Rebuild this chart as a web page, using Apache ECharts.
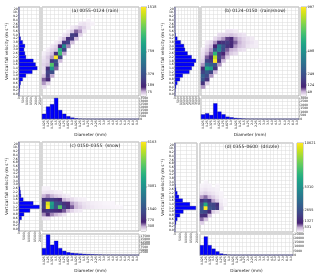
<!DOCTYPE html>
<html><head><meta charset="utf-8">
<script src="https://cdn.jsdelivr.net/npm/echarts@6/dist/echarts.min.js"></script>
<style>html,body{margin:0;padding:0;background:#fff}#c{width:320px;height:275px}</style>
</head><body><div id="c"></div>
<script>
// ---- categories ----
const diameterLabels = ["0.125","0.25","0.375","0.5","0.625","0.75","0.875","1.0","1.125","1.25","1.5","1.75","2.0","2.25","2.5","3.0","3.5","4.0","4.5","5.0","6.0","7.0","8.0","9.0"];
const velocityLabels = ["0.0","0.2","0.4","0.6","0.8","1.0","1.2","1.4","1.6","1.8","2.2","2.6","3.0","3.4","3.8","4.2","5.0","5.6","6.8","7.6","8.4","9.2","10.","20"];

// ---- panel titles ----
const titles = ["(a) 0055\u20130124 (rain)", "(b) 0124\u20130150  (rain/snow)", "(c) 0150\u20130355  (snow)", "(d) 0355\u20130600  (drizzle)"];

// ---- heatmap counts [diameterIndex, velocityIndex, count] ----
const heatA = [
 [0,2,30],[0,3,90],[0,4,120],[0,5,60],[0,6,25],[0,7,30],[0,8,40],[0,9,30],[0,10,20],[0,11,10],
 [1,3,40],[1,4,180],[1,5,260],[1,6,300],[1,7,200],[1,8,60],[1,9,45],[1,10,50],[1,11,30],[1,12,15],
 [2,5,80],[2,6,350],[2,7,800],[2,8,1100],[2,9,260],[2,10,90],[2,11,60],[2,12,40],[2,13,20],
 [3,7,120],[3,8,300],[3,9,350],[3,10,1518],[3,11,200],[3,12,60],[3,13,40],[3,14,15],
 [4,9,60],[4,10,300],[4,11,1050],[4,12,950],[4,13,150],[4,14,40],[4,15,15],
 [5,11,80],[5,12,300],[5,13,700],[5,14,250],[5,15,60],[5,16,20],
 [6,13,100],[6,14,300],[6,15,200],[6,16,40],[6,17,15],
 [7,14,60],[7,15,250],[7,16,280],[7,17,50],[7,18,15],
 [8,15,60],[8,16,240],[8,17,120],[8,18,30],
 [9,16,40],[9,17,90],[9,18,60],[9,19,20],
 [10,17,20],[10,18,40],[10,19,25],
 [11,18,15],[11,19,15],[11,20,8],
 [12,19,8]
];
const heatB = [
 [0,2,60],[0,3,150],[0,4,250],[0,5,300],[0,6,200],[0,7,120],[0,8,60],[0,9,30],[0,10,20],[0,11,15],[0,12,10],
 [1,3,30],[1,4,150],[1,5,220],[1,6,280],[1,7,600],[1,8,350],[1,9,200],[1,10,80],[1,11,50],[1,12,30],[1,13,20],[1,14,10],
 [2,5,60],[2,6,200],[2,7,550],[2,8,300],[2,9,180],[2,10,120],[2,11,80],[2,12,60],[2,13,40],[2,14,20],
 [3,6,40],[3,7,150],[3,8,250],[3,9,997],[3,10,900],[3,11,650],[3,12,260],[3,13,100],[3,14,60],[3,15,20],
 [4,8,60],[4,9,150],[4,10,200],[4,11,180],[4,12,450],[4,13,400],[4,14,120],[4,15,40],[4,16,20],
 [5,9,40],[5,10,80],[5,11,100],[5,12,220],[5,13,250],[5,14,150],[5,15,60],[5,16,25],
 [6,10,30],[6,11,60],[6,12,80],[6,13,150],[6,14,180],[6,15,90],[6,16,30],[6,17,15],
 [7,11,30],[7,12,50],[7,13,120],[7,14,120],[7,15,110],[7,16,40],[7,17,15],
 [8,11,20],[8,12,40],[8,13,60],[8,14,80],[8,15,60],[8,16,30],[8,17,10],
 [9,12,20],[9,13,40],[9,14,50],[9,15,40],[9,16,20],
 [10,12,15],[10,13,30],[10,14,30],[10,15,25],[10,16,15],
 [11,13,15],[11,14,20],[11,15,15],
 [12,13,10],[12,14,15],[12,15,10],
 [13,13,8],[13,14,8],
 [14,9,6]
];
const heatC = [
 [0,3,100],[0,4,400],[0,5,800],[0,6,1200],[0,7,1100],[0,8,900],[0,9,300],[0,10,80],[0,11,30],
 [1,3,80],[1,4,600],[1,5,1000],[1,6,6163],[1,7,5800],[1,8,1000],[1,9,400],[1,10,100],[1,11,30],
 [2,4,400],[2,5,900],[2,6,3200],[2,7,3500],[2,8,1100],[2,9,300],[2,10,80],
 [3,4,300],[3,5,800],[3,6,1500],[3,7,1400],[3,8,900],[3,9,200],[3,10,50],
 [4,4,200],[4,5,700],[4,6,4500],[4,7,1300],[4,8,700],[4,9,150],[4,10,40],
 [5,4,100],[5,5,500],[5,6,1200],[5,7,900],[5,8,300],[5,9,80],
 [6,5,300],[6,6,800],[6,7,600],[6,8,200],[6,9,50],
 [7,5,150],[7,6,500],[7,7,350],[7,8,120],
 [8,5,80],[8,6,280],[8,7,250],[8,8,60],
 [9,5,60],[9,6,200],[9,7,150],[9,8,40],
 [10,6,120],[10,7,100],[10,8,30],
 [11,6,90],[11,7,70],
 [12,6,70],[12,7,50],
 [13,6,50],[13,7,40],
 [14,6,40],[14,7,30],
 [15,6,30],[15,7,20],
 [16,6,25],[16,7,15],
 [17,6,20],[17,7,12],
 [18,6,15],
 [19,6,10]
];
const heatD = [
 [0,2,300],[0,3,800],[0,4,1500],[0,5,2500],[0,6,3000],[0,7,2500],[0,8,1500],[0,9,600],[0,10,200],[0,11,100],[0,12,50],
 [1,3,400],[1,4,1300],[1,5,2200],[1,6,10621],[1,7,6500],[1,8,2200],[1,9,800],[1,10,300],[1,11,150],[1,12,80],[1,13,40],
 [2,4,400],[2,5,1200],[2,6,2800],[2,7,2300],[2,8,1500],[2,9,500],[2,10,200],[2,11,100],[2,12,60],
 [3,5,300],[3,6,2400],[3,7,2200],[3,8,600],[3,9,300],[3,10,150],[3,11,80],
 [4,5,150],[4,6,1800],[4,7,1500],[4,8,300],[4,9,150],[4,10,80],[4,11,50],[4,12,30],
 [5,6,200],[5,7,150],[5,8,80],[5,9,50],[5,10,30],
 [6,7,40],[6,8,20]
];

// ---- velocity histograms (one value per velocity class) ----
const velHistA = [0,50,120,200,440,830,1590,2180,1980,1710,830,710,600,710,440,200,80,30,0,0,0,0,0,0];
const velHistB = [0,60,170,390,830,1300,2400,2800,3200,3500,2780,2100,1670,1500,950,390,100,40,0,0,0,0,0,0];
const velHistC = [0,200,600,2500,4800,10500,19500,13600,4100,1900,1500,950,300,0,0,0,0,0,0,0,0,0,0,0];
const velHistD = [0,300,900,2100,4500,7600,19000,13600,7000,3600,2100,900,400,150,0,0,0,0,0,0,0,0,0,0];

// ---- diameter histograms (one value per diameter class) ----
const diaHistA = [860,2070,2470,3500,1490,860,460,230,115,60,30,15,8,0,0,0,0,0,0,0,0,0,0,0];
const diaHistB = [660,810,570,2240,1050,670,330,240,140,100,60,40,30,20,10,0,0,0,0,0,0,0,0,0];
const diaHistC = [6500,19400,9700,13500,6500,3900,2600,1900,1600,1300,1000,800,650,500,400,300,250,200,150,100,80,0,0,0];
const diaHistD = [11700,22000,11700,7500,4200,1700,800,300,0,0,0,0,0,0,0,0,0,0,0,0,0,0,0,0];

// ---- colour-bar ticks ----
const cbarTicksA = [75,189,379,759,1518];
const cbarTicksB = [49,124,249,498,997];
const cbarTicksC = [308,770,1540,3081,6163];
const cbarTicksD = [531,1327,2655,5310,10621];

// ---- axis ranges ----
const velAxisMax = [2500,4000,20000,20000];
const velAxisStep = [500,500,5000,5000];
const diaAxisMax = [3500,3000,20000,25000];
const diaAxisStep = [500,500,2500,5000];

// colour map: white -> lavender -> viridis
const cmap = ['#fbf8fc','#c9b3d6','#482475','#46337e','#414487','#3b528b','#355f8d','#2f6c8e','#2a788e','#25848e','#21918c','#1e9c89','#22a884','#2fb47c','#44bf70','#5ec962','#7ad151','#9bd93c','#bddf26','#dfe318','#fde725'];

// layout (pixels)
const layout = [
 {tx:90,  ty:3,   hist:[19,7,21,89],   heat:[42,7,97,89],   cbar:[141,7,5,89],   bot:[42,98,97,21]},
 {tx:250, ty:3,   hist:[175,7,24,89],  heat:[201,7,98,89],  cbar:[301,7,5,89],   bot:[201,98,98,21]},
 {tx:90,  ty:138, hist:[19,142,21,89], heat:[42,142,97,89], cbar:[141,142,5,89], bot:[42,234,97,21]},
 {tx:247, ty:139, hist:[175,143,22,89], heat:[200,143,93,89], cbar:[297,143,6,89], bot:[200,234,93,21]}
];
const heats = [heatA,heatB,heatC,heatD];
const velHists = [velHistA,velHistB,velHistC,velHistD];
const diaHists = [diaHistA,diaHistB,diaHistC,diaHistD];
const cbarTicks = [cbarTicksA,cbarTicksB,cbarTicksC,cbarTicksD];

const FONT = 'DejaVu Sans';
const TXT = '#222';
const GRIDLINE = {show:true, lineStyle:{color:'#dadada', width:0.5}};
const plain = v => String(v);
const option = {animation:false, backgroundColor:'#fff', textStyle:{fontFamily:FONT},
  title:[], grid:[], xAxis:[], yAxis:[], series:[], visualMap:[]};

function g(r){return {left:r[0], top:r[1], width:r[2], height:r[3], show:true, borderColor:'#9a9a9a', borderWidth:0.8, containLabel:false};}
const lab = (extra)=>Object.assign({fontSize:3.1, color:TXT, fontFamily:FONT, margin:1.2}, extra||{});
const tick = {show:true, length:1, lineStyle:{color:'#444', width:0.4}};

layout.forEach((L,i)=>{
  const base = i*4;
  const max = cbarTicks[i][cbarTicks[i].length-1];
  option.title.push({text:titles[i], left:L.tx, top:L.ty, textAlign:'center',
    textStyle:{fontSize:4.5, fontWeight:'normal', color:TXT, fontFamily:FONT}});
  option.grid.push(g(L.hist), g(L.heat), g(L.cbar), g(L.bot));
  // 0: velocity histogram
  option.xAxis.push({gridIndex:base, type:'value', min:0, max:velAxisMax[i], interval:velAxisStep[i],
    axisLabel:lab({rotate:90, formatter:plain}), axisTick:tick, axisLine:{show:false}, splitLine:GRIDLINE});
  option.yAxis.push({gridIndex:base, type:'category', data:velocityLabels,
    axisLabel:lab({interval:0}), axisTick:Object.assign({interval:0},tick), axisLine:{show:false},
    splitLine:Object.assign({interval:0},GRIDLINE),
    name:'Vertical fall velocity (m s\u207B\u00B9)', nameLocation:'middle', nameGap:10,
    nameTextStyle:{fontSize:4.2, color:TXT, fontFamily:FONT}});
  // 1: heatmap
  option.xAxis.push({gridIndex:base+1, type:'category', data:diameterLabels,
    axisLabel:{show:false}, axisTick:{show:false}, axisLine:{show:false}, splitLine:Object.assign({interval:0},GRIDLINE)});
  option.yAxis.push({gridIndex:base+1, type:'category', data:velocityLabels,
    axisLabel:{show:false}, axisTick:{show:false}, axisLine:{show:false}, splitLine:Object.assign({interval:0},GRIDLINE)});
  // 2: colour bar
  option.xAxis.push({gridIndex:base+2, type:'category', data:[''], show:false});
  option.yAxis.push({gridIndex:base+2, type:'value', min:0, max:max, position:'right',
    axisLabel:lab({customValues:cbarTicks[i], margin:1.5, fontSize:3.5, formatter:plain}), axisTick:Object.assign({customValues:cbarTicks[i]},tick),
    axisLine:{show:false}, splitLine:{show:false}});
  // 3: diameter histogram
  option.xAxis.push({gridIndex:base+3, type:'category', data:diameterLabels,
    axisLabel:lab({interval:0, rotate:90}), axisTick:Object.assign({interval:0},tick), axisLine:{show:false},
    splitLine:Object.assign({interval:0},GRIDLINE),
    name:'Diameter (mm)', nameLocation:'middle', nameGap:12, nameTextStyle:{fontSize:4.2, color:TXT, fontFamily:FONT}});
  option.yAxis.push({gridIndex:base+3, type:'value', min:0, max:diaAxisMax[i], interval:diaAxisStep[i], position:'right',
    axisLabel:lab({formatter:plain}), axisTick:tick, axisLine:{show:false}, splitLine:GRIDLINE});

  option.series.push({type:'bar', xAxisIndex:base, yAxisIndex:base, data:velHists[i], barCategoryGap:'0%',
    itemStyle:{color:'#0000ff', borderColor:'#000066', borderWidth:0.3}, silent:true});
  const heatIdx = option.series.length;
  option.series.push({type:'heatmap', xAxisIndex:base+1, yAxisIndex:base+1, data:heats[i], silent:true});
  option.series.push({type:'bar', xAxisIndex:base+2, yAxisIndex:base+2, data:[max], barWidth:'100%', silent:true,
    itemStyle:{color:{type:'linear', x:0, y:1, x2:0, y2:0,
      colorStops:cmap.map((c,k)=>({offset:k/(cmap.length-1), color:c}))}}});
  option.series.push({type:'bar', xAxisIndex:base+3, yAxisIndex:base+3, data:diaHists[i], barCategoryGap:'0%',
    itemStyle:{color:'#0000ff', borderColor:'#000066', borderWidth:0.3}, silent:true});
  option.visualMap.push({type:'continuous', show:false, min:0, max:max, seriesIndex:heatIdx, dimension:2,
    inRange:{color:cmap}});
});

const chart = echarts.init(document.getElementById('c'), null, {renderer:'canvas'});
chart.setOption(option);
</script></body></html>
